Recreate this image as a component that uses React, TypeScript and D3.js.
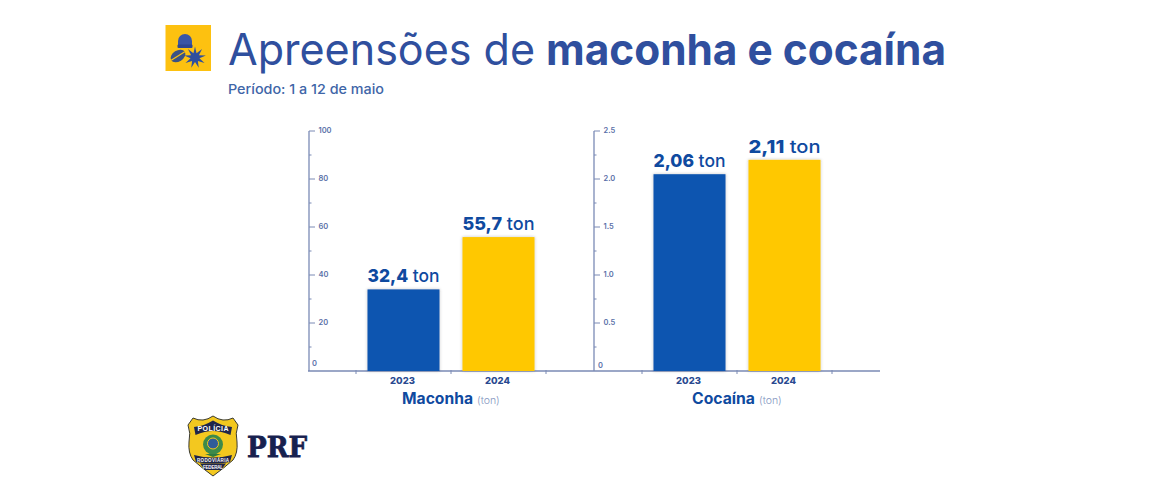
import React from "react";
import * as d3 from "d3";

const years = ["2023", "2024"];

// bar heights as drawn (the printed labels don't always agree with the bars)
const maconhaBars = [34, 55.8];
const maconhaLabels = ["32,4", "55,7"];
const maconhaTicks = [0, 20, 40, 60, 80, 100];
const maconhaMinor = [10, 30, 50, 70, 90];

const cocainaBars = [2.05, 2.2];
const cocainaLabels = ["2,06", "2,11"];
const cocainaTicks = [0, 0.5, 1.0, 1.5, 2.0, 2.5];
const cocainaMinor = [0.25, 0.75, 1.25, 1.75, 2.25];

const BLUE = "#0a55b0";
const YELLOW = "#ffc800";
const NAVY = "#2f4f9e";
const AXIS = "#7a8ab5";
const FONT = "Inter, 'Noto Sans', sans-serif";

const y0 = 371;
const yTop = 131;

interface PanelProps {
  axisX: number;
  bandStart: number;
  domainMax: number;
  bars: number[];
  labels: string[];
  ticks: number[];
  minor: number[];
  format: (v: number) => string;
  name: string;
  nameX: number;
  nameWidth: number;
  unitX: number;
  zeroX: number;
  zeroY: number;
}

const Panel: React.FC<PanelProps> = (p) => {
  const y = d3.scaleLinear().domain([0, p.domainMax]).range([y0, yTop]);
  const x = d3
    .scaleBand()
    .domain(years)
    .range([p.bandStart, p.bandStart + 190])
    .paddingInner(0.242)
    .paddingOuter(0.121);
  const step = x.step();

  return (
    <g>
      <line x1={p.axisX} x2={p.axisX} y1={yTop} y2={y0} stroke={AXIS} strokeWidth={1.3} />
      {p.ticks
        .filter((t) => t > 0)
        .map((t) => (
          <line key={t} x1={p.axisX} x2={p.axisX + 6} y1={y(t)} y2={y(t)} stroke={AXIS} strokeWidth={1} />
        ))}
      {p.minor.map((t) => (
        <line key={t} x1={p.axisX} x2={p.axisX + 2.5} y1={y(t)} y2={y(t)} stroke={AXIS} strokeWidth={1} />
      ))}
      {p.ticks.map((t) => (
        <text
          key={t}
          x={t === 0 ? p.zeroX : p.axisX + 9.5}
          y={t === 0 ? p.zeroY : y(t)}
          dominantBaseline="middle"
          fontFamily={FONT}
          fontSize={7.5}
          fontWeight={600}
          fill="#5a70a8"
        >
          {p.format(t)}
        </text>
      ))}

      {/* band ticks under the baseline */}
      {[0, 1, 2].map((i) => (
        <line
          key={i}
          x1={p.bandStart + i * step}
          x2={p.bandStart + i * step}
          y1={y0 - 1}
          y2={y0 + 3}
          stroke={AXIS}
          strokeWidth={1}
        />
      ))}

      {years.map((yr, i) => (
        <g key={yr}>
          <rect
            x={x(yr)}
            y={y(p.bars[i])}
            width={x.bandwidth()}
            height={y0 - y(p.bars[i])}
            fill={i === 0 ? BLUE : YELLOW}
            filter="url(#barShadow)"
          />
          <text
            x={x(yr)! + x.bandwidth() / 2}
            y={y(p.bars[i]) - 7}
            textAnchor="middle"
            textLength={72}
            lengthAdjust="spacingAndGlyphs"
            fontFamily={FONT}
            fontSize={18}
            fill="#0f4a9f"
          >
            <tspan fontWeight={800}>{p.labels[i]}</tspan>
            <tspan fontWeight={500}> ton</tspan>
          </text>
          <text
            x={x(yr)! + x.bandwidth() / 2 - 1}
            y={383.5}
            textAnchor="middle"
            fontFamily={FONT}
            fontSize={9.5}
            fontWeight={800}
            fill="#2a4a90"
          >
            {yr}
          </text>
        </g>
      ))}

      <text
        x={p.nameX}
        y={404}
        textLength={p.nameWidth}
        lengthAdjust="spacingAndGlyphs"
        fontFamily={FONT}
        fontSize={15.5}
        fontWeight={700}
        fill="#0f4a9f"
      >
        {p.name}
      </text>
      <text x={p.unitX} y={403.5} fontFamily={FONT} fontSize={10.5} fontWeight={300} fill="#8496c0">
        (ton)
      </text>
    </g>
  );
};

// spiky leaf outline for the pictogram
const leafPath = () => {
  const pts: [number, number][] = [];
  d3.range(9).forEach((i) => {
    const a = (i / 9) * Math.PI * 2 - Math.PI / 2;
    pts.push([Math.cos(a) * 11, Math.sin(a) * 11]);
    const b = a + Math.PI / 9;
    pts.push([Math.cos(b) * 4.5, Math.sin(b) * 4.5]);
  });
  return d3.line()(pts) + "Z";
};

const Icon: React.FC = () => (
  <g>
    <rect x={165.5} y={25} width={45.5} height={46} fill="#fdc110" />
    <path d="M178,47 V41 a7,7 0 0 1 14,0 V47 Z" fill="#3a55a5" />
    <rect x={177.5} y={44.5} width={15} height={3.5} rx={1} fill="#2f4690" />
    <g transform="translate(178,56) rotate(-32)">
      <ellipse rx={8} ry={5.5} fill="#3a5285" />
      <line x1={-8} x2={8} y1={0} y2={0} stroke="#fdc110" strokeWidth={1.2} />
    </g>
    <path d={leafPath()} transform="translate(195,57.5)" fill="#2f4f9e" />
  </g>
);

const Badge: React.FC = () => (
  <g>
    <path
      d="M188,425 L193,418 Q203,423 213,416 Q223,423 233,418 L238,425 Q235,433 237,442 Q238,453 233,460 Q224,468 213,476 Q202,468 193,460 Q188,453 189,442 Q191,433 188,425 Z"
      fill="#f3c81f"
      stroke="#3a3a30"
      strokeWidth={1}
    />
    <path d="M194,427 Q204,426 213,420.5 Q222,426 232,427 L230.5,435 Q221,431 213,431 Q205,431 195.5,435 Z" fill="#20264a" />
    <text x={213} y={431} textAnchor="middle" fontFamily="'Liberation Sans', sans-serif" fontWeight={700} fontSize={7} fill="#fff" textLength={31}>
      POLÍCIA
    </text>
    <circle cx={213} cy={444.5} r={10} fill="#3d8a4a" />
    <circle cx={213} cy={443.5} r={5.5} fill="#2f5c9a" stroke="#f3c81f" strokeWidth={1} />
    <path d="M205,454 L221,454 L213,457 Z" fill="#2f7a3f" />
    <path d="M194,455 Q213,460 232,455 L230,462 Q213,465 196,462 Z" fill="#20264a" />
    <path d="M200,463.5 L226,463.5 L221,470 L205,470 Z" fill="#20264a" />
    <text x={213} y={461.5} textAnchor="middle" fontFamily="'Liberation Sans', sans-serif" fontWeight={700} fontSize={4.5} fill="#fff" textLength={32}>
      RODOVIÁRIA
    </text>
    <text x={213} y={468.5} textAnchor="middle" fontFamily="'Liberation Sans', sans-serif" fontWeight={700} fontSize={4.5} fill="#fff" textLength={20}>
      FEDERAL
    </text>
    <text
      x={247}
      y={456.5}
      textLength={60}
      lengthAdjust="spacingAndGlyphs"
      fontFamily="'DejaVu Serif', serif"
      fontWeight={700}
      fontSize={28}
      fill="#17214f"
      stroke="#17214f"
      strokeWidth={0.8}
    >
      PRF
    </text>
  </g>
);

const App: React.FC = () => (
  <svg
    width={1150}
    height={500}
    style={{ position: "absolute", left: 0, top: 0, background: "#fff" }}
  >
    <defs>
      <filter id="barShadow" x="-15%" y="-10%" width="130%" height="115%">
        <feDropShadow dx={0} dy={0} stdDeviation={1.8} floodColor="#333" floodOpacity={0.3} />
      </filter>
    </defs>

    <Icon />
    <text x={228} y={65} textLength={307} lengthAdjust="spacingAndGlyphs" fontFamily={FONT} fontWeight={400} fontSize={44} fill={NAVY}>
      Apreensões de
    </text>
    <text x={546} y={65} textLength={400} lengthAdjust="spacingAndGlyphs" fontFamily={FONT} fontWeight={700} fontSize={43} fill={NAVY}>
      maconha e cocaína
    </text>
    <text x={228} y={94} textLength={156} lengthAdjust="spacingAndGlyphs" fontFamily={FONT} fontWeight={500} fontSize={13.5} fill="#3f66a8">
      Período: 1 a 12 de maio
    </text>

    {/* shared baseline runs under both panels */}
    <line x1={308} x2={880} y1={y0} y2={y0} stroke={AXIS} strokeWidth={1.5} />

    <Panel
      axisX={309}
      bandStart={356}
      domainMax={100}
      bars={maconhaBars}
      labels={maconhaLabels}
      ticks={maconhaTicks}
      minor={maconhaMinor}
      format={(v) => String(v)}
      name="Maconha"
      nameX={402}
      nameWidth={71}
      unitX={477}
      zeroX={312}
      zeroY={364}
    />
    <Panel
      axisX={594}
      bandStart={642}
      domainMax={2.5}
      bars={cocainaBars}
      labels={cocainaLabels}
      ticks={cocainaTicks}
      minor={cocainaMinor}
      format={(v) => (v === 0 ? "0" : v.toFixed(1))}
      name="Cocaína"
      nameX={692}
      nameWidth={63}
      unitX={759}
      zeroX={598}
      zeroY={366}
    />

    <Badge />
  </svg>
);

export default App;
